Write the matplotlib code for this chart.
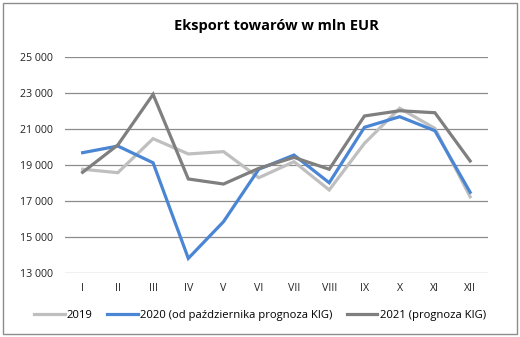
import matplotlib
matplotlib.use("Agg")
import matplotlib.pyplot as plt
from matplotlib.patches import Rectangle
from matplotlib.ticker import FuncFormatter

months = ["I", "II", "III", "IV", "V", "VI", "VII", "VIII", "IX", "X", "XI", "XII"]
exp_2019 = [18780, 18590, 20480, 19630, 19760, 18310, 19200, 17630, 20220, 22170, 21050, 17250]
exp_2020 = [19700, 20070, 19140, 13830, 15870, 18780, 19570, 18030, 21110, 21700, 20920, 17500]
exp_2021 = [18610, 20130, 22940, 18240, 17960, 18830, 19440, 18780, 21740, 22030, 21920, 19240]
labels = ["2019", "2020 (od października prognoza KIG)", "2021 (prognoza KIG)"]
colors = ["#bfbfbf", "#4a86d4", "#7f7f7f"]

plt.rcParams["font.family"] = ["Open Sans", "DejaVu Sans"]

fig = plt.figure(figsize=(5.2, 3.37), dpi=100)
ax = fig.add_axes([0.125, 0.189, 0.813, 0.641])

x = range(len(months))
for vals, lab, c in zip([exp_2019, exp_2020, exp_2021], labels, colors):
    ax.plot(x, vals, color=c, lw=2.3, label=lab, solid_joinstyle="miter")

ax.set_xlim(-0.5, len(months) - 0.5)
ax.set_ylim(13000, 25000)
ax.set_yticks(range(13000, 25001, 2000))
ax.yaxis.set_major_formatter(FuncFormatter(lambda v, p: f"{int(v):,}".replace(",", " ")))
ax.set_xticks(list(x))
ax.set_xticklabels(months)
ax.grid(axis="y", color="#8c8c8c", lw=0.9)
ax.set_axisbelow(True)
for s in ax.spines.values():
    s.set_visible(False)
ax.tick_params(length=0, labelsize=7.7, colors="#222222")
ax.tick_params(axis="y", pad=9)
ax.tick_params(axis="x", pad=7)

ax.set_title("Eksport towarów w mln EUR", fontsize=10.5, fontweight="bold", pad=20)

fig.legend(loc="center", bbox_to_anchor=(0.5, 0.065), ncol=3, frameon=False,
           fontsize=8.1, handlelength=2.7, columnspacing=1.3, handletextpad=0.2)

fig.patches.append(Rectangle((0.006, 0.01), 0.988, 0.98, transform=fig.transFigure,
                             fill=False, edgecolor="#8c8c8c", lw=1))

fig.savefig("out.png", dpi=100)
